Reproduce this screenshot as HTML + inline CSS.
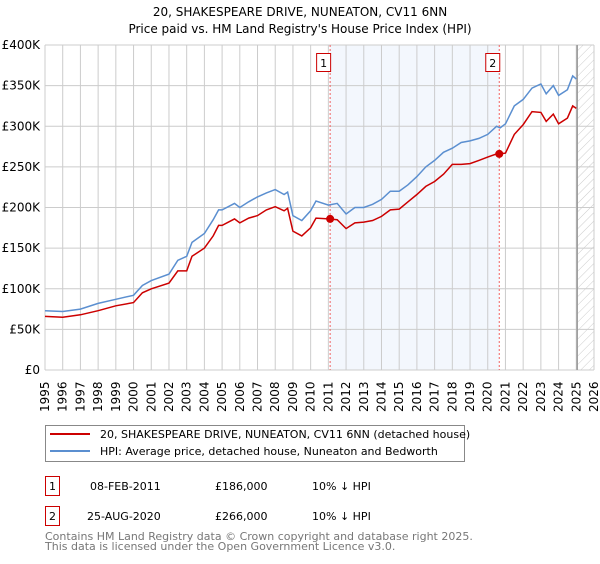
<!DOCTYPE html>
<html><head><meta charset="utf-8"><style>
body{margin:0;background:#fff;width:600px;height:560px;overflow:hidden;font-family:"DejaVu Sans","Liberation Sans",sans-serif}
</style></head><body>
<svg id="c" width="600" height="560" xmlns="http://www.w3.org/2000/svg" font-family="DejaVu Sans, Liberation Sans, sans-serif">
<defs><pattern id="hatch" width="6" height="6" patternUnits="userSpaceOnUse" patternTransform="rotate(45)"><line x1="0" y1="0" x2="0" y2="6" stroke="#ccc" stroke-width="1"/></pattern></defs>
<text x="300" y="16" text-anchor="middle" font-size="12">20, SHAKESPEARE DRIVE, NUNEATON, CV11 6NN</text>
<text x="300" y="33" text-anchor="middle" font-size="12">Price paid vs. HM Land Registry's House Price Index (HPI)</text>
<g id="plot"></g>
<g>
<rect x="45.5" y="425.5" width="419" height="36" fill="#fff" stroke="#888"/>
<line x1="50" y1="434" x2="90" y2="434" stroke="#cc0000" stroke-width="2"/>
<text x="100" y="438" font-size="11">20, SHAKESPEARE DRIVE, NUNEATON, CV11 6NN (detached house)</text>
<line x1="50" y1="451" x2="90" y2="451" stroke="#5b8fd0" stroke-width="2"/>
<text x="100" y="455" font-size="11">HPI: Average price, detached house, Nuneaton and Bedworth</text>
</g>
<g font-size="11">
<rect x="45.5" y="476.5" width="14" height="19" fill="#fff" stroke="#cc0000"/><text x="52.5" y="490" text-anchor="middle">1</text>
<text x="90" y="490">08-FEB-2011</text><text x="215" y="490">£186,000</text><text x="312" y="490">10% ↓ HPI</text>
<rect x="45.5" y="506.5" width="14" height="19" fill="#fff" stroke="#cc0000"/><text x="52.5" y="520" text-anchor="middle">2</text>
<text x="87" y="520">25-AUG-2020</text><text x="215" y="520">£266,000</text><text x="312" y="520">10% ↓ HPI</text>
</g>
<text x="45" y="540" font-size="11" fill="#777">Contains HM Land Registry data © Crown copyright and database right 2025.</text>
<text x="45" y="550" font-size="11" fill="#777">This data is licensed under the Open Government Licence v3.0.</text>
</svg>
<script>
const yTicks=[0,50,100,150,200,250,300,350,400];
const yTickLabels=["£0","£50K","£100K","£150K","£200K","£250K","£300K","£350K","£400K"];
const xYears=[1995,1996,1997,1998,1999,2000,2001,2002,2003,2004,2005,2006,2007,2008,2009,2010,2011,2012,2013,2014,2015,2016,2017,2018,2019,2020,2021,2022,2023,2024,2025,2026];
const hpiT=[1995,1996,1997,1998,1999,2000,2000.5,2001,2002,2002.5,2003,2003.3,2004,2004.5,2004.8,2005,2005.7,2006,2006.5,2007,2007.5,2008,2008.5,2008.7,2009,2009.5,2010,2010.3,2011,2011.5,2012,2012.5,2013,2013.5,2014,2014.5,2015,2015.5,2016,2016.5,2017,2017.5,2018,2018.5,2019,2019.5,2020,2020.5,2020.7,2021,2021.5,2022,2022.5,2023,2023.3,2023.7,2024,2024.5,2024.8,2025];
const hpiV=[73,72,75,82,87,92,104,110,118,135,140,157,168,185,197,197,205,200,207,213,218,222,216,219,190,184,196,208,203,205,192,200,200,204,210,220,220,228,238,250,258,268,273,280,282,285,290,300,298,303,325,333,347,352,340,350,338,345,362,358];
const ppV=[66,65,68,73,79,83,95,100,107,122,122,140,150,165,178,178,186,181,187,190,197,201,196,199,171,165,175,187,186,185,174,181,182,184,189,197,198,207,216,226,232,241,253,253,254,258,262,266,266,267,290,302,318,317,306,315,303,310,325,322];
const saleT=[2011.1,2020.65];
const saleV=[186,266];
const saleLabels=["1","2"];
const X0=45,X1=594,Y0=370,Y1=45,T0=1995,T1=2026,VMAX=400;
const sx=t=>X0+(t-T0)/(T1-T0)*(X1-X0);
const sy=v=>Y0-v/VMAX*(Y0-Y1);
const NS="http://www.w3.org/2000/svg";
const g=document.getElementById('plot');
function mk(tag,attrs,parent){const e=document.createElementNS(NS,tag);for(const k in attrs)e.setAttribute(k,attrs[k]);(parent||g).appendChild(e);return e;}
let e;
e=mk('rect',{x:sx(saleT[0]),y:Y1,width:sx(saleT[1])-sx(saleT[0]),height:Y0-Y1,fill:'#eef3fc',opacity:0.7});


e=mk('rect',{x:sx(2025.05),y:Y1,width:X1-sx(2025.05),height:Y0-Y1,fill:'url(#hatch)'});


xYears.forEach(y=>{
 e=mk('line',{x1:sx(y),x2:sx(y),y1:Y1,y2:Y0,stroke:'#ccc','stroke-width':1});
 
 
 const tx=sx(y)+4;
 e=mk('text',{x:0,y:0,'font-size':12,transform:`translate(${tx},412) rotate(-90)`});
 e.textContent=y;
 
 
});
yTicks.forEach((v,i)=>{
 e=mk('line',{x1:X0,x2:X1,y1:sy(v),y2:sy(v),stroke:'#ccc','stroke-width':1});
 
 
 e=mk('text',{x:40,y:sy(v)+4,'font-size':12,'text-anchor':'end'});
 e.textContent=yTickLabels[i];
 
 
});
e=mk('line',{x1:sx(2025.05),x2:sx(2025.05),y1:Y1,y2:Y0,stroke:'#999','stroke-width':1.5});


saleT.forEach((t,i)=>{
 e=mk('line',{x1:sx(t),x2:sx(t),y1:Y1,y2:Y0,stroke:'#f06060','stroke-width':1,'stroke-dasharray':'2,2'});
 
 
 e=mk('rect',{x:sx(t)-13.5,y:53.5,width:14,height:18,fill:'#fff',stroke:'#cc0000'});
 
 
 e=mk('text',{x:sx(t)-6.5,y:67,'font-size':11,'text-anchor':'middle'});
 e.textContent=saleLabels[i];
 
 
});
const path=(T,V)=>T.map((t,i)=>(i?'L':'M')+sx(t).toFixed(1)+','+sy(V[i]).toFixed(1)).join('');
e=mk('path',{d:path(hpiT,hpiV),fill:'none',stroke:'#5b8fd0','stroke-width':1.5});


e=mk('path',{d:path(hpiT,ppV),fill:'none',stroke:'#cc0000','stroke-width':1.5});


saleT.forEach((t,i)=>{
 e=mk('circle',{cx:sx(t),cy:sy(saleV[i]),r:4,fill:'#cc0000'});
 
 
});
</script>
</body></html>
